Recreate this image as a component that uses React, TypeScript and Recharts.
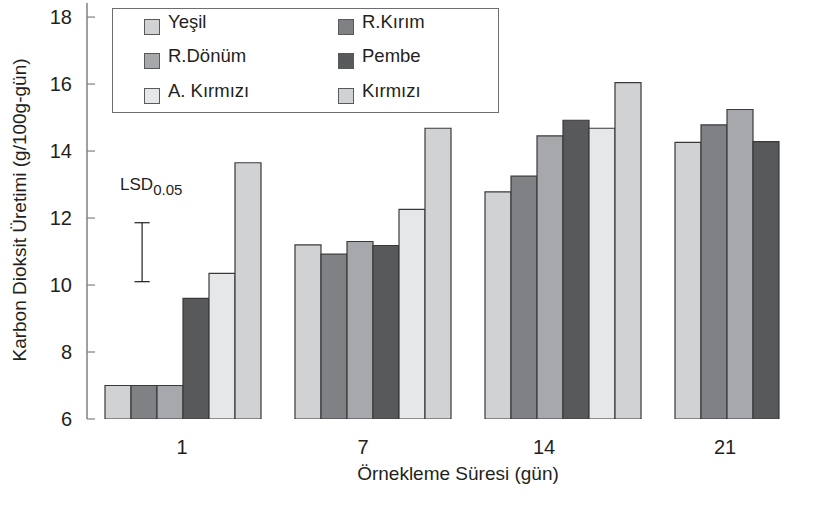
import React from "react";
import {
  BarChart,
  Bar,
  XAxis,
  YAxis,
  Legend,
  ReferenceLine,
  ReferenceDot,
} from "recharts";

// sampling days (x categories)
const days = ["1", "7", "14", "21"];

// CO2 production, g/100g-day, per variety
const yesil = [7.0, 11.2, 12.78, 14.26];
const rKirim = [7.0, 10.92, 13.25, 14.78];
const rDonum = [7.0, 11.3, 14.45, 15.24];
const pembe = [9.6, 11.18, 14.92, 14.28];
const aKirmizi = [10.35, 12.26, 14.68, null];
const kirmizi = [13.65, 14.68, 16.04, null];

const yTicks = [6, 8, 10, 12, 14, 16, 18];

// LSD(0.05) interval
const lsdLow = 10.1;
const lsdHigh = 11.86;

const series = [
  { key: "yesil", name: "Yeşil", values: yesil },
  { key: "rKirim", name: "R.Kırım", values: rKirim },
  { key: "rDonum", name: "R.Dönüm", values: rDonum },
  { key: "pembe", name: "Pembe", values: pembe },
  { key: "aKirmizi", name: "A. Kırmızı", values: aKirmizi },
  { key: "kirmizi", name: "Kırmızı", values: kirmizi },
];

const colors: Record<string, string> = {
  yesil: "#d1d2d4",
  rKirim: "#808184",
  rDonum: "#a7a8ab",
  pembe: "#58595b",
  aKirmizi: "#e6e7e8",
  kirmizi: "#d1d2d4",
};

// "pos" = centre of each category band in band units, used by the
// numeric helper axis the LSD marker is placed on
const data = days.map((day, i) => {
  const row: Record<string, string | number | null> = { day, pos: i + 0.5 };
  series.forEach((s) => {
    row[s.key] = s.values[i];
  });
  return row;
});

const FONT = "'Liberation Sans', Arial, sans-serif";
const INK = "#231f20";
const AXIS = "#808080";

function LegendBox({ payload }: any) {
  const rowsY = [14, 48, 83];
  const colX = [31, 225];
  // keep the series order: two columns, filled row by row
  const items = [...(payload || [])].sort(
    (a: any, b: any) =>
      series.findIndex((s) => s.key === a.dataKey) -
      series.findIndex((s) => s.key === b.dataKey)
  );
  return (
    <div
      style={{
        position: "relative",
        width: 385,
        height: 103,
        border: "1.5px solid #6d6e71",
        background: "#fff",
        fontFamily: FONT,
        fontSize: 18.5,
        color: INK,
      }}
    >
      {items.map((p: any, i: number) => {
        const cx = colX[i % 2];
        const cy = rowsY[Math.floor(i / 2)];
        return (
          <React.Fragment key={p.value}>
            <div
              style={{
                position: "absolute",
                left: cx,
                top: cy - 4,
                width: 14,
                height: 14,
                background: p.color,
                border: "1px solid #58595b",
              }}
            />
            <div
              style={{
                position: "absolute",
                left: cx + 24,
                top: cy - 11,
                lineHeight: "20px",
                whiteSpace: "nowrap",
              }}
            >
              {p.value}
            </div>
          </React.Fragment>
        );
      })}
    </div>
  );
}

function LsdLabel(props: any) {
  return (
    <text x={props.cx} y={props.cy} fill={INK} fontFamily={FONT} fontSize={17}>
      LSD
      <tspan dy={5} fontSize={15}>
        0.05
      </tspan>
    </text>
  );
}

export default function App() {
  return (
    <div style={{ position: "absolute", left: 0, top: 0, background: "#fff" }}>
      <BarChart
        width={821}
        height={505}
        data={data}
        margin={{ top: 3, right: -26, bottom: 46, left: 0 }}
        barCategoryGap={18}
        barGap={0}
      >
        <XAxis
          dataKey="day"
          tick={false}
          tickLine={false}
          height={0}
          axisLine={{ stroke: AXIS, strokeWidth: 1.5 }}
        />
        <XAxis
          xAxisId="lab"
          dataKey="day"
          height={40}
          axisLine={false}
          tickLine={false}
          tickSize={0}
          tickMargin={21}
          padding={{ left: 4.5, right: 31.5 }}
          tick={{ fill: INK, fontSize: 20, fontFamily: FONT }}
        />
        <XAxis
          xAxisId="pos"
          dataKey="pos"
          type="number"
          domain={[0, 4]}
          allowDataOverflow
          hide
        />
        <YAxis
          width={87}
          domain={[6, 18.42]}
          ticks={yTicks}
          interval={0}
          allowDataOverflow
          axisLine={{ stroke: AXIS, strokeWidth: 1.5 }}
          tickLine={{ stroke: AXIS, strokeWidth: 1.2 }}
          tickSize={-8}
          tickMargin={23}
          tick={{ fill: INK, fontSize: 20, fontFamily: FONT }}
        />
        <Legend
          layout="horizontal"
          verticalAlign="middle"
          align="center"
          wrapperStyle={{ top: 8, left: 112, width: 390, height: 106 }}
          content={<LegendBox />}
        />
        {series.map((s) => (
          <Bar
            key={s.key}
            dataKey={s.key}
            name={s.name}
            fill={colors[s.key]}
            stroke="#3a3a3c"
            strokeWidth={1.2}
            isAnimationActive={false}
          />
        ))}
        <ReferenceLine
          xAxisId="pos"
          segment={[
            { x: 0.29, y: lsdLow },
            { x: 0.29, y: lsdHigh },
          ]}
          stroke={INK}
          strokeWidth={1.2}
        />
        <ReferenceLine
          xAxisId="pos"
          segment={[
            { x: 0.25, y: lsdLow },
            { x: 0.33, y: lsdLow },
          ]}
          stroke={INK}
          strokeWidth={1.2}
        />
        <ReferenceLine
          xAxisId="pos"
          segment={[
            { x: 0.25, y: lsdHigh },
            { x: 0.33, y: lsdHigh },
          ]}
          stroke={INK}
          strokeWidth={1.2}
        />
        <ReferenceDot
          xAxisId="pos"
          x={0.174}
          y={12.84}
          r={0}
          shape={<LsdLabel />}
        />
        <text
          x={19}
          y={210}
          transform="rotate(-90 19 210)"
          textAnchor="middle"
          dominantBaseline="central"
          fill={INK}
          fontFamily={FONT}
          fontSize={19}
        >
          Karbon Dioksit Üretimi (g/100g-gün)
        </text>
        <text
          x={458}
          y={473}
          textAnchor="middle"
          dominantBaseline="central"
          fill={INK}
          fontFamily={FONT}
          fontSize={19}
        >
          Örnekleme Süresi (gün)
        </text>
      </BarChart>
    </div>
  );
}
